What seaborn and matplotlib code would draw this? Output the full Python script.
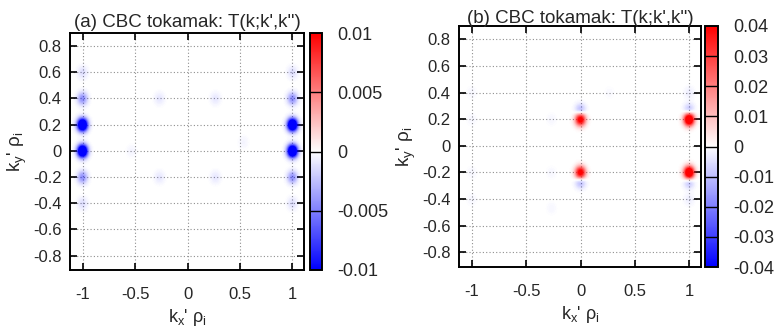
import numpy as np
import matplotlib
matplotlib.use("Agg")
import matplotlib.pyplot as plt
from matplotlib.colors import ListedColormap
import seaborn as sns

sns.set_theme(style="ticks")
plt.rcParams['font.family'] = ['Liberation Sans', 'DejaVu Sans']
plt.rcParams['axes.unicode_minus'] = False
plt.rcParams['mathtext.fontset'] = 'custom'
plt.rcParams['mathtext.rm'] = 'Liberation Sans'
plt.rcParams['mathtext.it'] = 'Liberation Sans:italic'

# ---------------- data ----------------
# grid of k' nodes (spacing 1/15)
node_step = 1.0 / 15.0
kx_nodes = np.arange(-16, 17) * node_step
ky_nodes = np.arange(-13, 14) * node_step

# panel (a): transfer spots (kx', ky', value)
spots_a_kx = [-1.0, -1.0, 1.0, 1.0, -1.0, 1.0, -1.0, 1.0, -1.0, 1.0, -1.0, 1.0,
              -0.267, 0.267, -0.267, 0.267, -0.533, 0.533]
spots_a_ky = [0.0, 0.2, 0.0, 0.2, 0.4, 0.4, -0.2, -0.2, 0.6, 0.6, -0.4, -0.4,
              0.4, 0.4, -0.2, -0.2, 0.0, 0.067]
spots_a_val = [-0.03, -0.03, -0.03, -0.03, -0.007, -0.007, -0.007, -0.007,
               -0.002, -0.002, -0.002, -0.002, -0.0015, -0.0015, -0.0015, -0.0015,
               -0.0007, -0.0007]

# panel (b): transfer spots (kx', ky', value)
spots_b_kx = [0.0, 0.0, 1.0, 1.0, 0.0, 0.0, 1.0, 1.0,
              1.0, 1.0, -1.0, -1.0, -1.0, -1.0, -0.267, -0.267, -0.267, 0.267]
spots_b_ky = [0.2, -0.2, 0.2, -0.2, 0.267, -0.267, 0.267, -0.267,
              0.4, -0.4, 0.4, -0.4, 0.2, -0.2, 0.2, -0.2, -0.467, 0.4]
spots_b_val = [0.075, 0.075, 0.1, 0.1, -0.02, -0.02, -0.018, -0.018,
               -0.004, -0.004, -0.002, -0.002, -0.002, -0.002, -0.002, -0.002,
               -0.002, -0.0015]

vmax_a = 0.01
vmax_b = 0.04
cbar_ticks_a = [-0.01, -0.005, 0, 0.005, 0.01]
cbar_labels_a = ["-0.01", "-0.005", "0", "0.005", "0.01"]
cbar_ticks_b = [-0.04, -0.03, -0.02, -0.01, 0, 0.01, 0.02, 0.03, 0.04]
cbar_labels_b = ["-0.04", "-0.03", "-0.02", "-0.01", "0", "0.01", "0.02", "0.03", "0.04"]
x_ticks = [-1, -0.5, 0, 0.5, 1]
x_labels = ["-1", "-0.5", "0", "0.5", "1"]
y_ticks = [-0.8, -0.6, -0.4, -0.2, 0, 0.2, 0.4, 0.6, 0.8]
y_labels = ["-0.8", "-0.6", "-0.4", "-0.2", "0", "0.2", "0.4", "0.6", "0.8"]
titles = ["(a) CBC tokamak: T(k;k',k'')", "(b) CBC tokamak: T(k;k',k'')"]


def build_grid(kxs, kys, vals):
    g = np.zeros((len(ky_nodes), len(kx_nodes)))
    for kx, ky, v in zip(kxs, kys, vals):
        i = int(np.argmin(np.abs(ky_nodes - ky)))
        j = int(np.argmin(np.abs(kx_nodes - kx)))
        g[i, j] += v
    return g


grid_a = build_grid(spots_a_kx, spots_a_ky, spots_a_val)
grid_b = build_grid(spots_b_kx, spots_b_ky, spots_b_val)

# blue-white-red map expressed as colour with alpha (identical to bwr over white),
# so the dotted grid stays visible on the white background but is hidden by strong spots
_t = np.linspace(-1, 1, 256)
_cols = np.zeros((256, 4))
_cols[_t < 0, 2] = 1.0
_cols[_t >= 0, 0] = 1.0
_cols[:, 3] = np.abs(_t)
cmap_bwr = ListedColormap(_cols)

W, H = 775, 329
fig = plt.figure(figsize=(W / 100, H / 100), dpi=100)


def px(l, t, r, b):
    return [l / W, 1 - b / H, (r - l) / W, (b - t) / H]


panels = [
    dict(grid=grid_a, vmax=vmax_a, ax=px(70, 33, 304, 270), cax=px(310, 33, 322, 270),
         ticks=cbar_ticks_a, labels=cbar_labels_a, title=titles[0], tpad=4),
    dict(grid=grid_b, vmax=vmax_b, ax=px(459, 26, 701, 267), cax=px(705, 26, 718, 267),
         ticks=cbar_ticks_b, labels=cbar_labels_b, title=titles[1], tpad=2),
]

extent = [kx_nodes[0] - node_step / 2, kx_nodes[-1] + node_step / 2,
          ky_nodes[0] - node_step / 2, ky_nodes[-1] + node_step / 2]

fs = 12
for p in panels:
    ax = fig.add_axes(p["ax"])
    cax = fig.add_axes(p["cax"])
    # dotted grid below the image
    for xv in x_ticks:
        ax.axvline(xv, linestyle=(0, (1, 2)), color="#8f8f8f", linewidth=0.8, zorder=0.5)
    for yv in y_ticks:
        ax.axhline(yv, linestyle=(0, (1, 2)), color="#8f8f8f", linewidth=0.8, zorder=0.5)
    im = ax.imshow(p["grid"], origin="lower", extent=extent, cmap=cmap_bwr,
                   vmin=-p["vmax"], vmax=p["vmax"], interpolation="gaussian",
                   aspect="auto", zorder=1)
    ax.set_xlim(-1.12, 1.11)
    ax.set_ylim(-0.91, 0.9)
    ax.set_xticks(x_ticks)
    ax.set_xticklabels(x_labels)
    ax.set_yticks(y_ticks)
    ax.set_yticklabels(y_labels)
    ax.tick_params(direction="in", length=5, width=1.2, top=True, right=True,
                   labelsize=fs, color="black")
    ax.tick_params(axis="y", pad=6)
    ax.tick_params(axis="x", pad=12)
    for s in ax.spines.values():
        s.set_linewidth(1.4)
        s.set_color("black")
    ax.set_title(p["title"], fontsize=13.5, pad=p["tpad"])
    ax.set_xlabel(r"$\mathregular{k_x}$' $\mathregular{\rho_i}$", fontsize=13, labelpad=4)
    ax.set_ylabel(r"$\mathregular{k_y}$' $\mathregular{\rho_i}$", fontsize=13.5, labelpad=3)

    cb = fig.colorbar(im, cax=cax, ticks=p["ticks"])
    cb.set_ticklabels(p["labels"])
    cax.tick_params(length=0, labelsize=13, pad=11)
    cb.outline.set_linewidth(1.4)
    cb.outline.set_edgecolor("black")
    for t in p["ticks"][1:-1]:
        cax.axhline(t, color="black", linewidth=1.0)

fig.savefig("out.png", dpi=100)
